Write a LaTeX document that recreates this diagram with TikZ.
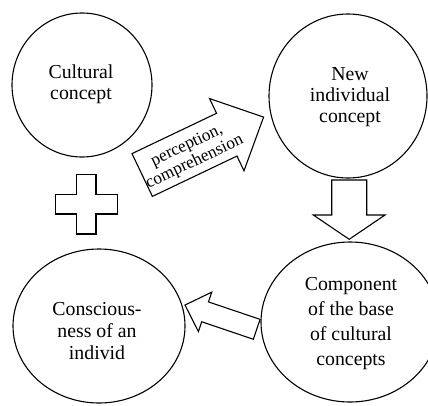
\documentclass[tikz,border=0pt]{standalone}
\usepackage{fontspec}
\setmainfont{Liberation Serif}
\usetikzlibrary{shapes.geometric}
\tikzset{
  concept/.style={ellipse, draw, line width=1.1pt, inner sep=0pt},
  conceptText/.style={align=center, inner sep=0pt, font=\fontsize{19.8}{21}\selectfont},
  blockarrow/.style={draw, line width=1.1pt, line join=miter, fill=white},
}
\begin{document}
\begin{tikzpicture}[x=1pt,y=-1pt]
\useasboundingbox (0,0) rectangle (428,405);

\node[concept, minimum width=140pt, minimum height=144pt] (cult) at (82,85) {};
\node[conceptText, font=\fontsize{19.8}{20.5}\selectfont] (cultT) at (81,84) {Cultural\\concept};

\node[concept, minimum width=158pt, minimum height=164pt] (new) at (348,96) {};
\node[conceptText] (newT) at (350,97) {New\\individual\\concept};

\node[concept, minimum width=172pt, minimum height=154pt] (cons) at (99,326) {};
\node[conceptText, font=\fontsize{19.8}{22}\selectfont] (consT) at (97,331) {Conscious-\\ness of an\\individ};

\node[concept, minimum width=178pt, minimum height=160pt] (comp) at (350,322) {};
\node[conceptText, font=\fontsize{19.8}{25}\selectfont] (compT) at (351,323.5) {Component\\of the base\\of cultural\\concepts};

% plus sign
\draw[blockarrow] (76.7,174.3) -- (96,174.3) -- (96,194.3) -- (117.3,194.3) -- (117.3,214)
  -- (96,214) -- (96,234) -- (76.7,234) -- (76.7,214) -- (55.7,214) -- (55.7,194.3)
  -- (76.7,194.3) -- cycle;

% perception arrow
\begin{scope}[shift={(142.2,175)}, rotate=25.5]
  \draw[blockarrow] (0,-23.7) -- (93.7,-23.7) -- (93.7,-40) -- (134.5,0) -- (93.7,40)
    -- (93.7,23.7) -- (0,23.7) -- cycle;
  \node[rotate=25.5, align=center, inner sep=0pt, font=\fontsize{17.3}{18}\selectfont]
    (perc) at (53,2) {perception,\\comprehension};
\end{scope}

% down arrow
\draw[blockarrow] (331.7,180) -- (366.7,180) -- (366.7,215) -- (385,215) -- (349.2,239.3)
  -- (313.3,215) -- (331.7,215) -- cycle;

% left arrow
\begin{scope}[shift={(256.7,329.3)}, rotate=161.3]
  \draw[blockarrow] (0,-10.5) -- (54.5,-10.5) -- (54.5,-20.8) -- (75.7,0) -- (54.5,20.8)
    -- (54.5,10.5) -- (0,10.5) -- cycle;
\end{scope}
\end{tikzpicture}
\end{document}
